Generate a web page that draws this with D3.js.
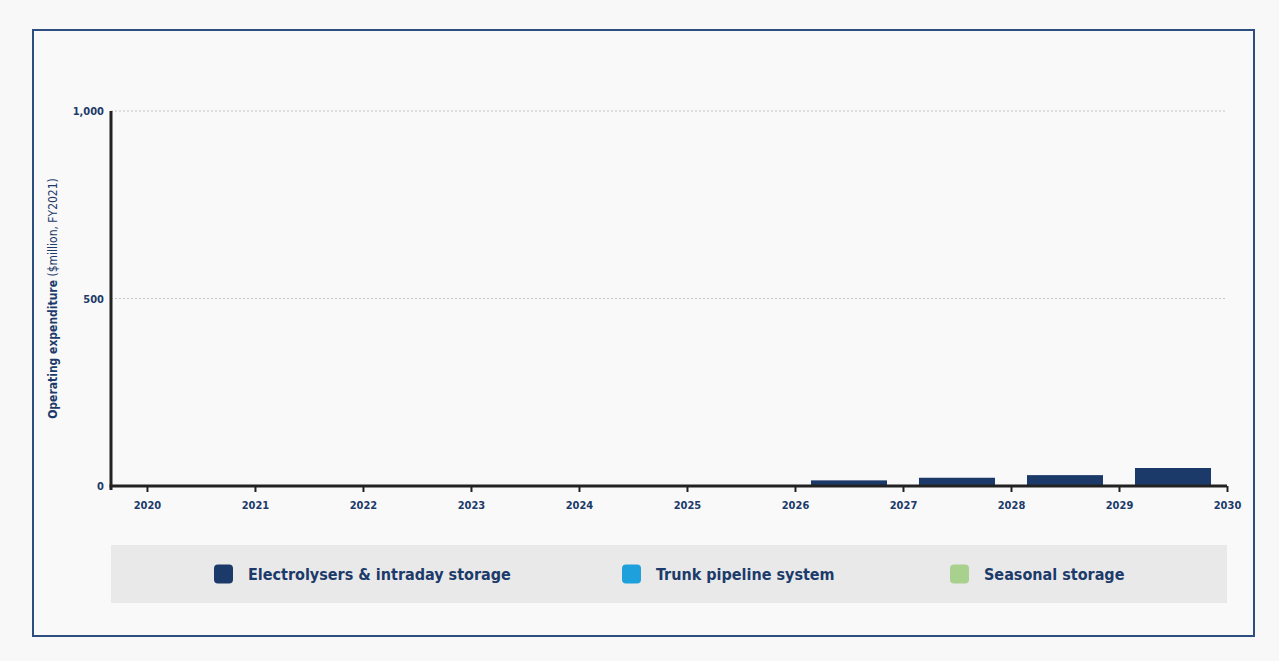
<!DOCTYPE html>
<html>
<head>
<meta charset="utf-8">
<script src="https://cdn.jsdelivr.net/npm/d3@7"></script>
<style>
  html, body { margin: 0; padding: 0; background: #f8f8f8; }
  svg { display: block; }
  text { font-family: "DejaVu Sans Condensed", "DejaVu Sans", Verdana, sans-serif; }
</style>
</head>
<body>
<svg id="chart" width="1279" height="661"></svg>
<script>
// Operating expenditure by year ($million, FY2021)
const years = [2020, 2021, 2022, 2023, 2024, 2025, 2026, 2027, 2028, 2029];
const electrolysers = [0, 0, 0, 0, 0, 0, 15, 22, 29, 48];
const trunkPipeline = [0, 0, 0, 0, 0, 0, 0, 0, 0, 0];
const seasonalStorage = [0, 0, 0, 0, 0, 0, 0, 0, 0, 0];
const xTicks = [2020, 2021, 2022, 2023, 2024, 2025, 2026, 2027, 2028, 2029, 2030];
const yTicks = [0, 500, 1000];
const seriesNames = ["Electrolysers & intraday storage", "Trunk pipeline system", "Seasonal storage"];
const seriesColors = ["#1b3a69", "#1ea0dc", "#a9d18e"];

const svg = d3.select("#chart");
const navy = "#1c3a6a";

// outer frame
svg.append("rect")
  .attr("x", 33).attr("y", 30).attr("width", 1221).attr("height", 606)
  .attr("fill", "#f9f9f9").attr("stroke", "#2d4f80").attr("stroke-width", 2);

const x = d3.scaleLinear().domain([2019.667, 2030]).range([111, 1227]);
const y = d3.scaleLinear().domain([0, 1000]).range([486, 111]);

// gridlines
svg.append("g").selectAll("line")
  .data(yTicks.filter(d => d > 0))
  .join("line")
  .attr("x1", x.range()[0]).attr("x2", x.range()[1])
  .attr("y1", d => y(d)).attr("y2", d => y(d))
  .attr("stroke", "#c4c4c4").attr("stroke-width", 1)
  .attr("stroke-dasharray", "2,2");

// stacked bars
const table = years.map((yr, i) => ({
  year: yr,
  s0: electrolysers[i],
  s1: trunkPipeline[i],
  s2: seasonalStorage[i]
}));
const stack = d3.stack().keys(["s0", "s1", "s2"])(table);
const pad = 16 / 108;
svg.append("g").selectAll("g")
  .data(stack)
  .join("g")
  .attr("fill", (d, i) => seriesColors[i])
  .selectAll("rect")
  .data(d => d.filter(p => p[1] - p[0] > 0))
  .join("rect")
  .attr("x", d => x(d.data.year + pad))
  .attr("width", d => x(d.data.year + 1 - pad) - x(d.data.year + pad))
  .attr("y", d => y(d[1]))
  .attr("height", d => y(d[0]) - y(d[1]));

// x axis
const xAxis = svg.append("g")
  .attr("transform", `translate(0,${y(0)})`)
  .call(d3.axisBottom(x).tickValues(xTicks).tickFormat(d3.format("d")).tickSize(6).tickPadding(9));
xAxis.select(".domain").attr("stroke", "#222").attr("stroke-width", 3)
  .attr("d", `M${x.range()[0] - 1.5},0H${x.range()[1]}`);
xAxis.selectAll(".tick line").attr("stroke", "#222").attr("stroke-width", 2);
xAxis.selectAll(".tick text").attr("fill", navy).attr("font-size", 11).attr("font-weight", "bold")
  .style("font-family", '"DejaVu Sans Condensed", "DejaVu Sans", sans-serif');

// y axis
const yAxis = svg.append("g")
  .attr("transform", `translate(${x.range()[0]},0)`)
  .call(d3.axisLeft(y).tickValues(yTicks).tickFormat(d3.format(",")).tickSize(0).tickPadding(7));
yAxis.select(".domain").attr("stroke", "#222").attr("stroke-width", 3)
  .attr("d", `M0,${y(1000)}V${y(0) + 4}`);
yAxis.selectAll(".tick text").attr("fill", navy).attr("font-size", 11).attr("font-weight", "bold")
  .style("font-family", '"DejaVu Sans Condensed", "DejaVu Sans", sans-serif');

// y axis title
const yTitle = svg.append("text")
  .attr("transform", `translate(57,${y(500)}) rotate(-90)`)
  .attr("text-anchor", "middle")
  .attr("font-size", 12)
  .attr("fill", navy);
yTitle.append("tspan").attr("font-weight", "bold").text("Operating expenditure");
yTitle.append("tspan").text(" ($million, FY2021)");

// legend
const legend = svg.append("g");
legend.append("rect")
  .attr("x", 111).attr("y", 545).attr("width", 1116).attr("height", 58)
  .attr("fill", "#e9e9e9");
const legendX = [214, 622, 950];
const items = legend.selectAll("g.item")
  .data(seriesNames)
  .join("g")
  .attr("class", "item")
  .attr("transform", (d, i) => `translate(${legendX[i]},574)`);
items.append("rect")
  .attr("x", 0).attr("y", -9.5).attr("width", 19).attr("height", 19)
  .attr("rx", 4).attr("fill", (d, i) => seriesColors[i]);
items.append("text")
  .attr("x", 34).attr("dy", "0.36em")
  .attr("font-size", 16).attr("font-weight", "bold")
  .attr("fill", navy)
  .text(d => d);
</script>
</body>
</html>
